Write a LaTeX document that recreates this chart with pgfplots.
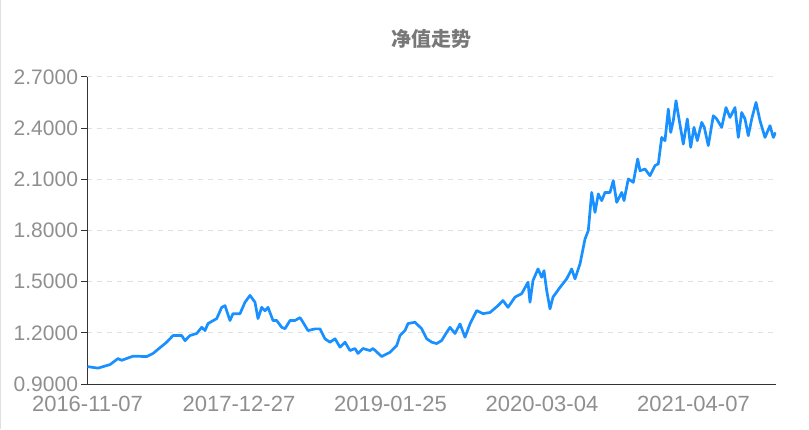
\documentclass[border=0pt]{standalone}
\usepackage{pgfplots}
\pgfplotsset{compat=1.18}
\usepackage{fontspec}
\setmainfont{Liberation Sans}
\newfontfamily\cjk{Noto Sans CJK SC}
\definecolor{navblue}{RGB}{24,144,255}
\definecolor{labelgray}{RGB}{143,143,143}
\definecolor{titlegray}{RGB}{120,120,120}
\definecolor{gridgray}{RGB}{224,224,224}
\definecolor{axisdark}{RGB}{51,51,51}

\begin{document}
\begin{tikzpicture}[x=1pt,y=1pt]
\path (0,0) rectangle (809,428);
\draw[gridgray, line width=1pt] (0.5,0) -- (0.5,428);
\begin{axis}[
  at={(87.5pt,44.3pt)}, anchor=south west,
  scale only axis, width=688.5pt, height=307.4pt,
  xmin=0, xmax=688.5, ymin=0.9, ymax=2.7,
  axis lines*=left,
  axis line style={draw=axisdark, line width=1pt},
  xtick={0,151.5,303,454.5,606},
  xticklabels={2016-11-07,2017-12-27,2019-01-25,2020-03-04,2021-04-07},
  ytick={0.9,1.2,1.5,1.8,2.1,2.4,2.7},
  x tick style={draw=none},
  y tick style={draw=axisdark, line width=1pt},
  tick align=outside, major tick length=6pt,
  ymajorgrids,
  major grid style={draw=gridgray, line width=1pt, dash pattern=on 5pt off 5pt},
  /pgf/number format/assume math mode=true,
  yticklabel style={/pgf/number format/.cd, fixed, fixed zerofill, precision=4},
  ticklabel style={font=\fontsize{21}{25}\selectfont, text=labelgray},
  xticklabel style={font=\fontsize{22}{26}\selectfont, inner sep=1pt, yshift=-5pt},
]
\addplot[navblue, line width=2.7pt, line join=round] coordinates {
(0,1.003) (10.5,0.994) (22.5,1.015) (30.5,1.05) (34.2,1.04) (45.5,1.064)
(59.2,1.062) (65.5,1.08) (79.2,1.146) (85.5,1.185) (94.2,1.185) (97.5,1.155)
(102.5,1.185) (109.2,1.197) (114.2,1.233) (117.5,1.214) (120.5,1.255) (129.2,1.284)
(134.2,1.35) (137.5,1.36) (142.5,1.273) (145.5,1.313) (152.5,1.313) (157.5,1.38)
(162.5,1.42) (167.5,1.38) (170.5,1.284) (174.2,1.35) (177.5,1.33) (180.5,1.35)
(185.5,1.273) (189.2,1.273) (194.2,1.233) (197.5,1.225) (202.5,1.273) (207.5,1.273)
(212.5,1.29) (215.5,1.263) (220.5,1.214) (227.5,1.224) (232.5,1.224) (237.5,1.166)
(242.5,1.146) (247.5,1.166) (252.5,1.117) (257.5,1.146) (262.5,1.097) (267.5,1.109)
(270.5,1.08) (275.5,1.109) (282.5,1.097) (285.5,1.109) (294.2,1.062) (302.5,1.087)
(309.2,1.126) (312.5,1.185) (317.5,1.214) (320.5,1.255) (327.5,1.263) (329.2,1.253)
(334.2,1.225) (339.2,1.166) (344.2,1.146) (349.2,1.138) (354.2,1.156) (359.2,1.204)
(362.5,1.233) (367.5,1.197) (372.5,1.253) (377.5,1.175) (382.5,1.253) (389.2,1.331)
(395.5,1.313) (402.5,1.32) (410.5,1.36) (415.5,1.39) (420.5,1.35) (427.5,1.41)
(434.2,1.43) (440.5,1.497) (442.5,1.38) (445.5,1.507) (450.5,1.575) (454.2,1.526)
(456.5,1.565) (459.2,1.448) (462.5,1.341) (465.5,1.41) (472.5,1.467) (479.2,1.517)
(484.2,1.575) (487.5,1.517) (492.5,1.604) (497.5,1.75) (500.8,1.80) (504.2,2.023)
(507.5,1.906) (510.8,2.014) (514.2,1.975) (517.5,2.023) (522.5,2.023) (525.8,2.092)
(529.2,1.965) (534.2,2.023) (536.5,1.975) (540.8,2.102) (545.8,2.082) (550.2,2.219)
(552.5,2.15) (557.5,2.16) (562.5,2.121) (567.5,2.18) (570.8,2.19) (574.2,2.345)
(577.5,2.326) (580.8,2.511) (583.2,2.374) (585.8,2.443) (588.5,2.56) (591.8,2.443)
(595.8,2.306) (599.8,2.453) (603.2,2.287) (606.5,2.404) (609.8,2.326) (614.2,2.433)
(616.8,2.404) (620.8,2.297) (625.8,2.472) (629.2,2.453) (634.2,2.404) (638.5,2.52)
(642.5,2.462) (647.5,2.52) (650.8,2.345) (654.2,2.491) (657.5,2.453) (660.8,2.355)
(664.2,2.453) (668.5,2.55) (672.5,2.443) (677.5,2.345) (682.5,2.414) (685.8,2.345)
(688.2,2.374)
};
\end{axis}
\node[font=\cjk\bfseries\fontsize{20}{24}\selectfont, text=titlegray] at (431,389.5) {净值走势};
\end{tikzpicture}
\end{document}
